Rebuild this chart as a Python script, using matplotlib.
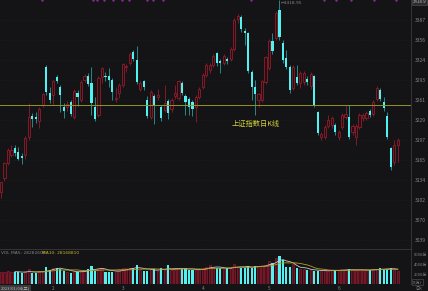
import matplotlib
matplotlib.use("Agg")
import matplotlib.pyplot as plt
import matplotlib.transforms as mtransforms
import numpy as np
import pandas as pd

plt.rcParams['font.family'] = ['Noto Sans CJK SC', 'DejaVu Sans']

# trading days shown (2023)
dates = (["2023-01-%02d" % d for d in [4, 5, 6, 9, 10, 11, 12, 13, 16, 17, 18, 19, 20, 30, 31]]
         + ["2023-02-%02d" % d for d in [1, 2, 3, 6, 7, 8, 9, 10, 13, 14, 15, 16, 17, 20, 21, 22, 23, 24, 27, 28]]
         + ["2023-03-%02d" % d for d in [1, 2, 3, 6, 7, 8, 9, 10, 13, 14, 15, 16, 17, 20, 21, 22, 23, 24, 27, 28, 29, 30, 31]]
         + ["2023-04-%02d" % d for d in [3, 4, 6, 7, 10, 11, 12, 13, 14, 17, 18, 19, 20, 21, 24, 25, 26, 27, 28]]
         + ["2023-05-%02d" % d for d in [4, 5, 8, 9, 10, 11, 12, 15, 16, 17, 18, 19, 22, 23, 24, 25, 26, 29, 30, 31]]
         + ["2023-06-%02d" % d for d in [1, 2, 5, 6, 7, 8, 9, 12, 13, 14, 15, 16, 19, 20, 21, 26, 27, 28]])

opens = [3115.0, 3137.0, 3161.0, 3174.0, 3185.0, 3178.0, 3172.0, 3173.5, 3202.0, 3235.0,
         3234.0, 3227.5, 3252.5, 3313.0, 3272.0, 3268.5, 3297.0, 3281.0, 3249.5, 3249.5,
         3257.5, 3233.5, 3271.5, 3260.5, 3292.5, 3298.5, 3287.5, 3249.5, 3237.0, 3297.0,
         3298.5, 3298.5, 3292.5, 3262.0, 3271.5, 3284.5, 3313.0, 3319.0, 3336.5, 3324.0,
         3278.0, 3290.5, 3260.5, 3233.5, 3267.0, 3265.5, 3249.5, 3245.0, 3259.0, 3246.5,
         3267.0, 3264.0, 3287.5, 3267.0, 3262.0, 3257.5, 3249.5, 3265.5, 3281.0, 3300.0,
         3308.0, 3316.0, 3335.0, 3322.5, 3319.0, 3325.5, 3325.5, 3341.5, 3389.0, 3392.0,
         3370.0, 3366.5, 3305.0, 3281.0, 3260.5, 3260.5, 3289.0, 3311.5, 3354.0, 3359.0,
         3403.0, 3351.0, 3327.0, 3313.0, 3279.5, 3297.0, 3287.5, 3289.0, 3294.0, 3283.0,
         3298.5, 3241.5, 3202.0, 3202.0, 3219.5, 3221.0, 3221.0, 3202.0, 3218.0, 3233.5,
         3233.5, 3210.0, 3202.0, 3218.0, 3232.0, 3232.0, 3243.0, 3238.5, 3262.0, 3276.5,
         3257.5, 3235.5, 3184.5, 3163.0, 3189.0]
highs = [3131.5, 3163.0, 3184.0, 3189.0, 3190.0, 3186.0, 3177.0, 3203.0, 3256.0, 3240.0,
         3241.0, 3249.0, 3272.0, 3316.0, 3281.0, 3293.0, 3301.0, 3284.0, 3256.0, 3259.0,
         3260.0, 3278.0, 3276.5, 3292.0, 3302.0, 3303.0, 3313.0, 3265.0, 3298.0, 3313.0,
         3305.0, 3312.0, 3295.0, 3281.0, 3287.0, 3320.0, 3318.0, 3337.0, 3340.0, 3346.0,
         3291.0, 3293.0, 3267.0, 3276.0, 3270.0, 3278.0, 3253.0, 3284.0, 3262.0, 3264.0,
         3284.0, 3293.0, 3290.0, 3270.0, 3265.0, 3260.0, 3268.0, 3281.0, 3303.0, 3319.0,
         3320.0, 3333.0, 3336.0, 3325.0, 3333.0, 3329.0, 3344.0, 3390.0, 3397.0, 3395.0,
         3374.5, 3369.0, 3308.0, 3292.0, 3272.0, 3293.0, 3331.0, 3357.0, 3366.5, 3401.0,
         3418.95, 3355.0, 3340.0, 3316.0, 3316.0, 3316.0, 3306.0, 3307.0, 3298.0, 3305.0,
         3301.0, 3244.0, 3210.0, 3221.0, 3237.0, 3236.0, 3224.0, 3213.0, 3240.0, 3252.5,
         3252.5, 3222.0, 3222.0, 3240.0, 3240.0, 3243.0, 3246.0, 3260.0, 3283.0, 3280.0,
         3265.0, 3241.5, 3187.0, 3198.0, 3200.0]
lows = [3106.0, 3133.0, 3158.0, 3171.0, 3172.0, 3165.0, 3159.0, 3168.0, 3198.0, 3218.0,
        3225.0, 3216.0, 3250.0, 3268.0, 3256.0, 3253.0, 3287.0, 3241.5, 3232.0, 3244.0,
        3236.0, 3230.0, 3251.0, 3258.0, 3289.0, 3283.0, 3237.0, 3228.0, 3234.0, 3287.0,
        3290.0, 3281.0, 3260.5, 3258.0, 3264.0, 3282.0, 3305.0, 3316.0, 3322.0, 3286.0,
        3275.0, 3276.0, 3232.0, 3230.0, 3222.5, 3260.0, 3228.0, 3241.0, 3230.0, 3242.0,
        3262.0, 3261.0, 3268.0, 3237.0, 3237.0, 3235.0, 3226.0, 3262.0, 3278.0, 3297.0,
        3304.0, 3313.0, 3315.0, 3303.5, 3316.0, 3318.0, 3322.0, 3338.0, 3383.0, 3368.0,
        3348.0, 3303.0, 3260.5, 3237.0, 3249.5, 3257.0, 3286.0, 3308.0, 3333.0, 3355.0,
        3355.0, 3320.0, 3309.0, 3272.0, 3276.0, 3284.0, 3280.0, 3285.0, 3284.0, 3278.0,
        3250.0, 3205.0, 3197.0, 3199.0, 3216.0, 3217.0, 3206.0, 3198.0, 3214.0, 3230.0,
        3199.0, 3206.0, 3189.5, 3214.0, 3228.0, 3229.0, 3233.0, 3235.0, 3259.0, 3259.0,
        3244.0, 3199.0, 3150.0, 3157.0, 3162.0]
closes = [3130.5, 3161.0, 3181.0, 3181.5, 3177.0, 3167.0, 3169.5, 3200.5, 3234.0, 3231.0,
          3230.5, 3246.5, 3270.0, 3273.0, 3261.0, 3290.5, 3291.0, 3268.5, 3243.0, 3254.5,
          3238.5, 3275.0, 3265.5, 3289.0, 3298.5, 3286.0, 3256.0, 3230.5, 3295.5, 3311.5,
          3297.0, 3292.5, 3273.5, 3264.0, 3284.5, 3317.5, 3314.5, 3333.5, 3325.5, 3289.0,
          3287.5, 3281.0, 3235.5, 3273.5, 3251.0, 3268.5, 3232.0, 3256.0, 3240.0, 3260.5,
          3271.5, 3290.5, 3271.5, 3257.5, 3249.5, 3246.5, 3265.5, 3278.0, 3300.0, 3316.0,
          3316.0, 3330.5, 3319.0, 3319.0, 3330.5, 3322.5, 3341.5, 3387.5, 3393.5, 3373.0,
          3367.0, 3306.5, 3281.0, 3270.0, 3270.0, 3290.5, 3328.5, 3354.0, 3338.0, 3398.5,
          3360.5, 3324.0, 3313.0, 3276.5, 3313.0, 3287.5, 3303.5, 3303.5, 3289.0, 3302.0,
          3252.5, 3208.5, 3207.0, 3218.0, 3229.0, 3232.0, 3210.0, 3210.0, 3237.0, 3238.5,
          3202.0, 3219.5, 3219.5, 3237.0, 3237.0, 3240.0, 3237.0, 3257.5, 3279.5, 3262.0,
          3248.0, 3202.0, 3154.5, 3190.0, 3197.0]
# volume, 万手
volumes = [2530, 2550, 2600, 2500, 2450, 2450, 2200, 2600, 3070, 2200,
           2200, 2500, 2600, 3470, 2930, 3330, 3330, 3070, 2670, 2500,
           2330, 2600, 2530, 2600, 2700, 3070, 3730, 2670, 3200, 3200,
           2530, 2530, 2400, 2700, 3000, 3200, 3200, 3270, 3200, 3870,
           2900, 2670, 2670, 3000, 3070, 2700, 3200, 2800, 3870, 2900,
           2900, 3200, 3070, 3330, 2870, 2870, 2800, 2900, 3300, 3530,
           3870, 3400, 3200, 3200, 3000, 3330, 3300, 4000, 3500, 3330,
           3330, 3730, 3330, 3730, 3600, 3700, 3870, 4670, 4200, 5200,
           5730, 4870, 3400, 3400, 4000, 3200, 3070, 3070, 2800, 2870,
           2730, 2670, 2800, 2650, 2750, 2800, 2870, 2870, 2900, 2850,
           3070, 2850, 2800, 2900, 2850, 2850, 2800, 3070, 3070, 3200,
           3000, 3070, 3200, 3070, 2730]

price_ticks = [3387.3, 3355.6, 3324.0, 3292.3, 3260.6, 3229.0, 3197.3, 3165.6,
               3134.0, 3102.3, 3070.6, 3039.0]
price_tick_labels = ['3387', '3356', '3324', '3293', '3261', '3229', '3197', '3165',
                     '3134', '3102', '3070', '3039']
vol_ticks = [2000, 4000, 6000]
vol_tick_labels = ['2000万', '4000万', '6000万']
ref_line = 3252.7
event_idx = [11.7, 26.5, 27.5, 29.7, 32.3, 34.7, 36.8, 41.9, 43.8, 46.6,
             71.8, 92.8, 96.2, 100.5, 107.2, 113.4]

BG = '#141416'
UP_EDGE = '#901c2e'
UP_FILL = '#26100f'
DOWN = '#52f2f2'
DOWN_WICK = '#2a9a9a'
GRID = '#262628'
TXT = '#858585'

W, H = 428, 291
fig = plt.figure(figsize=(W / 100, H / 100), dpi=100, facecolor=BG)
axp = fig.add_axes([0, 1 - 249 / H, 411 / W, 249 / H], facecolor=BG)
axv = fig.add_axes([0, 1 - 284.3 / H, 411 / W, 35.3 / H], facecolor=BG)

o = np.array(opens); h = np.array(highs); l = np.array(lows); c = np.array(closes)
v = np.array(volumes)
x = np.arange(len(o))
up = c >= o
bw = 0.62

# price panel
for t in price_ticks:
    axp.axhline(t, color=GRID, lw=0.4, ls=(0, (1, 2)), zorder=0)
top = np.maximum(o, c); bot = np.minimum(o, c)
axp.vlines(x[up], h[up], top[up], color=UP_EDGE, lw=0.6, zorder=2)
axp.vlines(x[up], l[up], bot[up], color=UP_EDGE, lw=0.6, zorder=2)
axp.vlines(x[~up], l[~up], h[~up], color=DOWN_WICK, lw=0.6, zorder=2)
axp.bar(x[up], np.maximum(top[up] - bot[up], 0.6), bottom=bot[up], width=bw,
        facecolor=UP_FILL, edgecolor=UP_EDGE, linewidth=0.6, zorder=3)
axp.bar(x[~up], np.maximum(top[~up] - bot[~up], 1.2), bottom=bot[~up], width=bw,
        color=DOWN, linewidth=0, zorder=3)
axp.axhline(ref_line, color='#94941e', lw=0.7, zorder=4)

ylo = 3418.95 - 249 * 1.583
axp.set_ylim(ylo, 3418.95)
axp.set_xlim(-0.29, 117.8)
axp.set_xticks([])
axp.yaxis.tick_right()
axp.set_yticks(price_ticks)
axp.set_yticklabels(price_tick_labels)
axp.tick_params(axis='y', length=0, pad=3, labelsize=3.6, labelcolor=TXT)
for s in ['top', 'left', 'bottom']:
    axp.spines[s].set_visible(False)
axp.spines['right'].set_color('#3a3a3c')
axp.spines['right'].set_linewidth(0.6)

# event markers at the top edge
axp.plot(event_idx, [3418.6] * len(event_idx), ls='none', marker='s', ms=0.7,
         color='#8a2a9a', clip_on=False, zorder=5)

imax = int(np.argmax(h))
axp.text(imax + 0.4, h[imax] - 1, '←' + '%.2f' % h[imax], fontsize=3.2, color=TXT,
         va='top', ha='left', family=['DejaVu Sans'])
axp.text(0.623, 0.502, '上证指数日K线', transform=axp.transAxes, fontsize=5.2,
         color='#d2d23a', ha='center', va='center')
fig.text(412.5 / W, 1 - 1.5 / H, '%.1f' % h[imax], fontsize=3.2, color='#b0b0b0',
         ha='left', va='center', bbox=dict(boxstyle='square,pad=0.2', fc='#2c2c2e', ec='#555555', lw=0.4))

# volume panel
axv.bar(x[up], v[up], width=bw, facecolor='#4a121c', edgecolor=UP_EDGE, linewidth=0.5)
axv.bar(x[~up], v[~up], width=bw, color=DOWN, linewidth=0)
vs = pd.Series(v, dtype=float)
axv.plot(x, vs.rolling(5).mean(), color='#c8c8c8', lw=0.6)
axv.plot(x, vs.rolling(10).mean(), color='#b0a020', lw=0.6)
axv.set_xlim(-0.29, 117.8)
axv.set_ylim(0, 7060)
axv.set_xticks([])
axv.yaxis.tick_right()
axv.set_yticks(vol_ticks)
axv.set_yticklabels(vol_tick_labels)
axv.tick_params(axis='y', length=0, pad=2, labelsize=2.9, labelcolor=TXT)
for s in ['left', 'bottom']:
    axv.spines[s].set_visible(False)
axv.spines['top'].set_color('#3a3a3c')
axv.spines['top'].set_linewidth(0.6)
axv.spines['right'].set_color('#3a3a3c')
axv.spines['right'].set_linewidth(0.6)

fig.text(1 / W, 1 - 252.5 / H, 'VOL MA5: 28282608', fontsize=3.2, color=TXT, va='center',
         family=['DejaVu Sans'])
fig.text(42 / W, 1 - 252.5 / H, 'MA10: 28168810', fontsize=3.2, color='#c8b428', va='center',
         family=['DejaVu Sans'])

# month labels on the date bar
trans = mtransforms.blended_transform_factory(axv.transData, axv.transAxes)
months = pd.to_datetime(pd.Series(dates)).dt.month
for i in range(1, len(dates)):
    if months[i] != months[i - 1]:
        axv.text(i, -0.105, str(months[i]), transform=trans, fontsize=3.4, color=TXT,
                 ha='center', va='center', clip_on=False)
fig.text(1 / W, 1 - 288 / H, '2023/01/04(三)', fontsize=3.0, color='#c0c0c0', va='center',
         ha='left', bbox=dict(boxstyle='square,pad=0.25', fc='#3a3a3c', ec='none'))
fig.text(413 / W, 1 - 282 / H, 'X(万)', fontsize=2.9, color=TXT, va='center', ha='left',
         bbox=dict(boxstyle='square,pad=0.2', fc=BG, ec='#555555', lw=0.4))
fig.text(415 / W, 1 - 288.5 / H, '日K', fontsize=3.0, color=TXT, va='center', ha='left')

fig.savefig('out.png', dpi=100, facecolor=BG)
